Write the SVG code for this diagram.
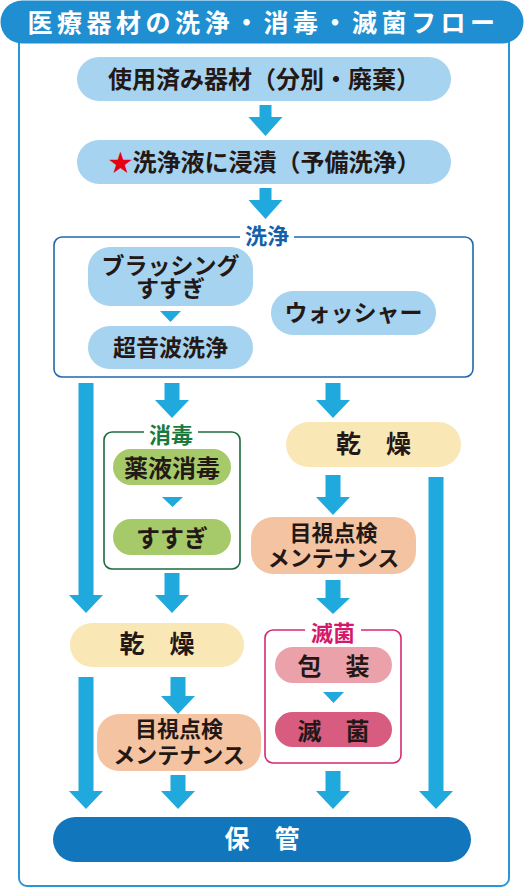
<svg xmlns="http://www.w3.org/2000/svg" width="524" height="887" viewBox="0 0 524 887">
<style>
text{font-family:"Noto Sans CJK JP","Noto Sans CJK SC",sans-serif;font-weight:700;text-anchor:middle;fill:#231815}
.t{fill:#fff}
.arr{fill:#20a9dd}
.blue{fill:#a6d3ef}
.green{fill:#a6c96a}
.cream{fill:#fae7b6}
.peach{fill:#f4c4a2}
.pink1{fill:#eba1aa}
.pink2{fill:#d85c80}
.grp{fill:none;stroke-width:1.6}
</style>
<rect width="524" height="887" fill="#fff"/>
<g id="frame">
<path d="M19 30 V878 a8 8 0 0 0 8 8 H501 a8 8 0 0 0 8 -8 V30" fill="none" stroke="#2a96d6" stroke-width="2"/>
</g>
<g id="title">
<rect x="0.5" y="0.5" width="523" height="43" rx="21.5" fill="#1f8fd1"/>
<text x="263.5" y="32" font-size="25" letter-spacing="4.5" class="t">医療器材の洗浄・消毒・滅菌フロー</text>
</g>
<g id="connectors">
<path class="arr" d="M259.5 105 h12 v12 h11 l-17 19 l-17 -19 h11 z"/>
<path class="arr" d="M259.5 188 h12 v12 h11 l-17 19 l-17 -19 h11 z"/>
<path class="arr" d="M78.5 383 h15 v212 h9.5 l-17 18 l-17 -18 h9.5 z"/>
<path class="arr" d="M164.5 383 h15 v17 h9.5 l-17 18 l-17 -18 h9.5 z"/>
<path class="arr" d="M325.5 383 h15 v17 h9.5 l-17 18 l-17 -18 h9.5 z"/>
<path class="arr" d="M164.5 573 h15 v22 h9.5 l-17 18 l-17 -18 h9.5 z"/>
<path class="arr" d="M325.5 475 h15 v22 h9.5 l-17 18 l-17 -18 h9.5 z"/>
<path class="arr" d="M325.5 580 h15 v18 h9.5 l-17 16 l-17 -16 h9.5 z"/>
<path class="arr" d="M428.5 477 h15 v314 h9.5 l-17 18 l-17 -18 h9.5 z"/>
<path class="arr" d="M78.5 677 h15 v114 h9.5 l-17 18 l-17 -18 h9.5 z"/>
<path class="arr" d="M170.5 677 h15 v19 h9.5 l-17 18 l-17 -18 h9.5 z"/>
<path class="arr" d="M170.5 775 h15 v16 h9.5 l-17 18 l-17 -18 h9.5 z"/>
<path class="arr" d="M325.5 771 h15 v20 h9.5 l-17 18 l-17 -18 h9.5 z"/>
<polygon class="arr" points="160,311 181,311 170.5,322"/>
<polygon class="arr" points="162,497 183,497 172.5,507"/>
<polygon class="arr" points="323,692 344,692 333.5,703"/>
</g>
<g id="n-used">
<rect class="blue" x="77" y="57" width="374" height="44" rx="22"/>
<text x="264" y="88" font-size="24">使用済み器材（分別・廃棄）</text>
</g>
<g id="n-soak">
<rect class="blue" x="77" y="140" width="374" height="44" rx="22"/>
<text x="264.5" y="171" font-size="24"><tspan fill="#e60012">★</tspan>洗浄液に浸漬（予備洗浄）</text>
</g>
<g id="g-wash">
<rect class="grp" x="54" y="237" width="419" height="140" rx="8" stroke="#1d6ab0"/>
<rect x="240" y="228" width="54" height="14" fill="#fff"/>
<text x="267" y="244" font-size="22" style="fill:#1560a8">洗浄</text>
</g>
<g id="n-brush">
<rect class="blue" x="88" y="247" width="165" height="59" rx="22"/>
<text font-size="23"><tspan x="170.5" y="274">ブラッシング</tspan><tspan x="170.5" y="297">すすぎ</tspan></text>
</g>
<g id="n-ultra">
<rect class="blue" x="88" y="326" width="165" height="43" rx="21.5"/>
<text x="170.5" y="356" font-size="23">超音波洗浄</text>
</g>
<g id="n-washer">
<rect class="blue" x="271" y="291" width="165" height="44" rx="22"/>
<text x="353.5" y="321" font-size="23">ウォッシャー</text>
</g>
<g id="g-disinfect">
<rect class="grp" x="104" y="432" width="136" height="137" rx="8" stroke="#1e6b3d"/>
<rect x="144" y="424" width="54" height="12" fill="#fff"/>
<text x="171" y="443" font-size="22" style="fill:#1a7a3e">消毒</text>
</g>
<g id="n-chem">
<rect class="green" x="113" y="449" width="118" height="36" rx="18"/>
<text x="172" y="477" font-size="24">薬液消毒</text>
</g>
<g id="n-rinse">
<rect class="green" x="113" y="519" width="118" height="36" rx="18"/>
<text x="172" y="547" font-size="24">すすぎ</text>
</g>
<g id="n-dry-r">
<rect class="cream" x="286" y="422" width="175" height="45" rx="22.5"/>
<text x="373.5" y="453" font-size="25">乾　燥</text>
</g>
<g id="n-insp-r">
<rect class="peach" x="251" y="517" width="165" height="57" rx="22"/>
<text font-size="22"><tspan x="333.5" y="541">目視点検</tspan><tspan x="333.5" y="566">メンテナンス</tspan></text>
</g>
<g id="n-dry-l">
<rect class="cream" x="70" y="623" width="174" height="44" rx="22"/>
<text x="157" y="653" font-size="25">乾　燥</text>
</g>
<g id="n-insp-l">
<rect class="peach" x="97" y="714" width="164" height="57" rx="22"/>
<text font-size="22"><tspan x="179" y="737">目視点検</tspan><tspan x="179" y="763">メンテナンス</tspan></text>
</g>
<g id="g-steril">
<rect class="grp" x="265" y="630" width="136" height="133" rx="8" stroke="#d42a72"/>
<rect x="305" y="622" width="56" height="12" fill="#fff"/>
<text x="333" y="641" font-size="22" style="fill:#d4186c">滅菌</text>
</g>
<g id="n-pack">
<rect class="pink1" x="275" y="647" width="117" height="36" rx="18"/>
<text x="333.5" y="675" font-size="24">包　装</text>
</g>
<g id="n-steril">
<rect class="pink2" x="275" y="712" width="117" height="35" rx="17.5"/>
<text x="333.5" y="740" font-size="24">滅　菌</text>
</g>
<g id="n-store">
<rect x="53" y="817" width="418" height="45" rx="22.5" fill="#1176bb"/>
<text x="262" y="848" font-size="25" class="t">保　管</text>
</g>
</svg>
